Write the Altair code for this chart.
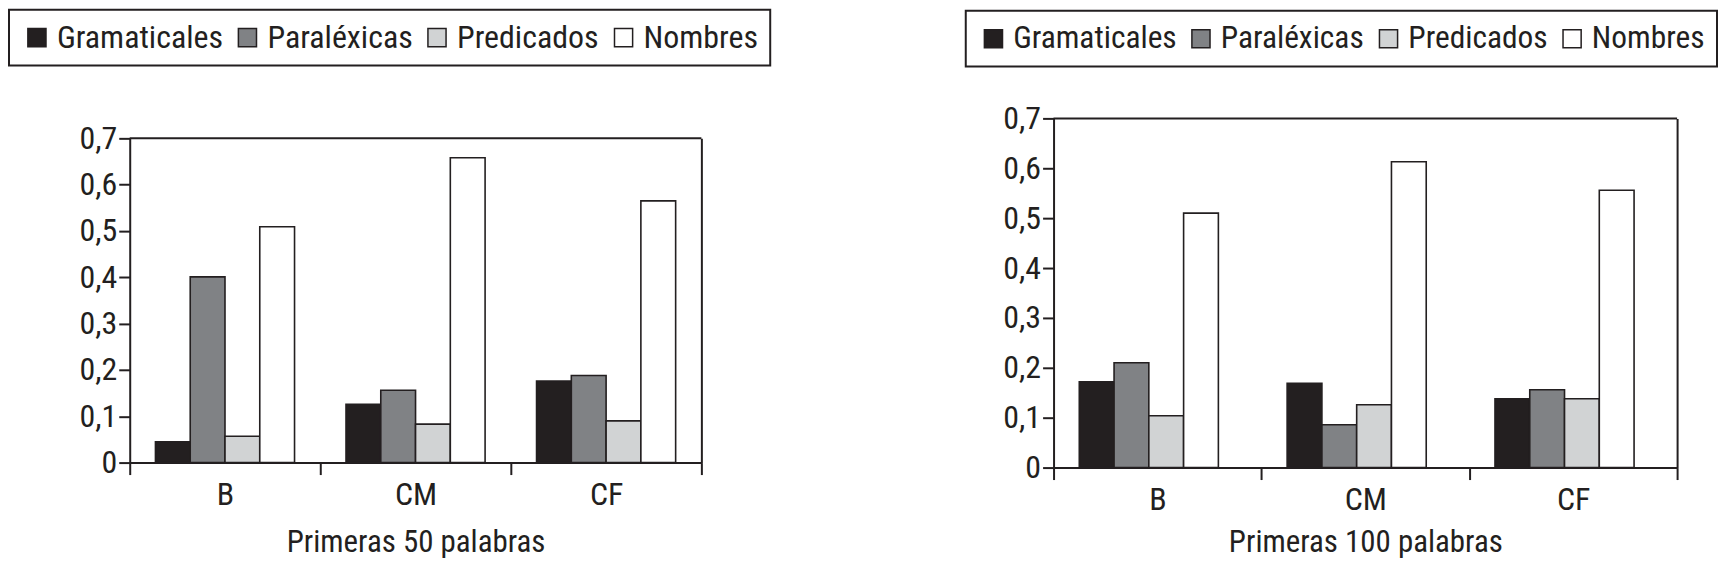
import altair as alt
import pandas as pd

categories = ["B", "CM", "CF"]
series = ["Gramaticales", "Paraléxicas", "Predicados", "Nombres"]
colors = ["#231f20", "#808285", "#d1d3d4", "#ffffff"]

# Primeras 50 palabras
gram_50 = [0.045, 0.126, 0.176]
paral_50 = [0.401, 0.156, 0.188]
pred_50 = [0.057, 0.083, 0.090]
nomb_50 = [0.509, 0.658, 0.565]

# Primeras 100 palabras
gram_100 = [0.172, 0.169, 0.138]
paral_100 = [0.210, 0.086, 0.156]
pred_100 = [0.104, 0.126, 0.138]
nomb_100 = [0.510, 0.613, 0.556]

y_ticks = [0, 0.1, 0.2, 0.3, 0.4, 0.5, 0.6, 0.7]
y_max = 0.7

FONT = "Roboto Condensed, Liberation Sans Narrow, DejaVu Sans Condensed, sans-serif"
INK = "#231f20"


def to_df(lists):
    rows = []
    for s, vals in zip(series, lists):
        for c, v in zip(categories, vals):
            rows.append({"cat": c, "serie": s, "value": v})
    return pd.DataFrame(rows)


def make_chart(df, title, width, height, top_gap, lab_size, title_size, title_pad,
               leg_size, leg_x, leg_y):
    y_scale = alt.Scale(domain=[0, y_max], nice=False, range=[height, top_gap])
    bars = (
        alt.Chart(df)
        .mark_bar(stroke=INK, strokeWidth=1.6)
        .encode(
            x=alt.X(
                "cat:N",
                sort=categories,
                scale=alt.Scale(paddingInner=0, paddingOuter=0),
                axis=alt.Axis(
                    title=title,
                    labelAngle=0,
                    tickBand="extent",
                    tickSize=12,
                    tickWidth=2,
                    tickColor=INK,
                    domainWidth=2,
                    domainColor=INK,
                    labelFont=FONT,
                    labelFontSize=lab_size,
                    labelColor=INK,
                    labelPadding=5,
                    titleFont=FONT,
                    titleFontSize=title_size,
                    titleFontWeight="normal",
                    titleColor=INK,
                    titlePadding=title_pad,
                ),
            ),
            xOffset=alt.XOffset(
                "serie:N",
                sort=series,
                scale=alt.Scale(paddingOuter=0.74, paddingInner=0),
            ),
            y=alt.Y(
                "value:Q",
                scale=y_scale,
                axis=alt.Axis(
                    title=None,
                    values=y_ticks,
                    grid=False,
                    labelExpr="replace(format(datum.value, '.1~f'), '.', ',')",
                    tickSize=11,
                    tickWidth=2,
                    tickColor=INK,
                    domainWidth=2,
                    domainColor=INK,
                    labelFont=FONT,
                    labelFontSize=lab_size,
                    labelColor=INK,
                    labelPadding=2,
                ),
            ),
            color=alt.Color(
                "serie:N",
                sort=series,
                scale=alt.Scale(domain=series, range=colors),
                legend=alt.Legend(
                    title=None,
                    orient="none",
                    direction="horizontal",
                    legendX=leg_x,
                    legendY=leg_y,
                    symbolType="square",
                    symbolSize=330,
                    symbolStrokeColor=INK,
                    symbolStrokeWidth=1.5,
                    symbolOpacity=1,
                    labelFont=FONT,
                    labelFontSize=leg_size,
                    labelColor=INK,
                    labelLimit=600,
                    labelOffset=4,
                    columnPadding=8,
                    padding=12,
                    strokeColor=INK,
                ),
            ),
        )
    )
    # plot frame: top line at the axis maximum and a right-hand axis line
    frame = (
        alt.Chart(pd.DataFrame({"top": [y_max]}))
        .mark_rule(color=INK, strokeWidth=2)
        .encode(
            y=alt.Y(
                "top:Q",
                scale=y_scale,
                axis=alt.Axis(
                    orient="right",
                    title=None,
                    labels=False,
                    ticks=False,
                    grid=False,
                    domainWidth=2,
                    domainColor=INK,
                ),
            )
        )
    )
    return (
        alt.layer(bars, frame)
        .resolve_axis(y="independent")
        .properties(width=width, height=height)
    )


# left plot area: 573 x 325, placed 20 px below the right one
left = make_chart(
    to_df([gram_50, paral_50, pred_50, nomb_50]),
    "Primeras 50 palabras", 573, 345, 20, 32, 31, 17, 32, -121, -109,
)
right = make_chart(
    to_df([gram_100, paral_100, pred_100, nomb_100]),
    "Primeras 100 palabras", 625, 350, 0, 32, 31, 12, 31.5, -88, -108,
)

chart = (
    alt.hconcat(left, right, spacing=194)
    .resolve_scale(color="independent")
    .resolve_legend(color="independent")
    .properties(
        padding={"left": 0, "top": 0, "right": 0, "bottom": 5},
        background="white",
    )
    .configure_view(strokeWidth=0)
    .configure_legend(strokeWidth=2)
)

chart.save("out.html", embed_options={"renderer": "svg", "actions": False})
